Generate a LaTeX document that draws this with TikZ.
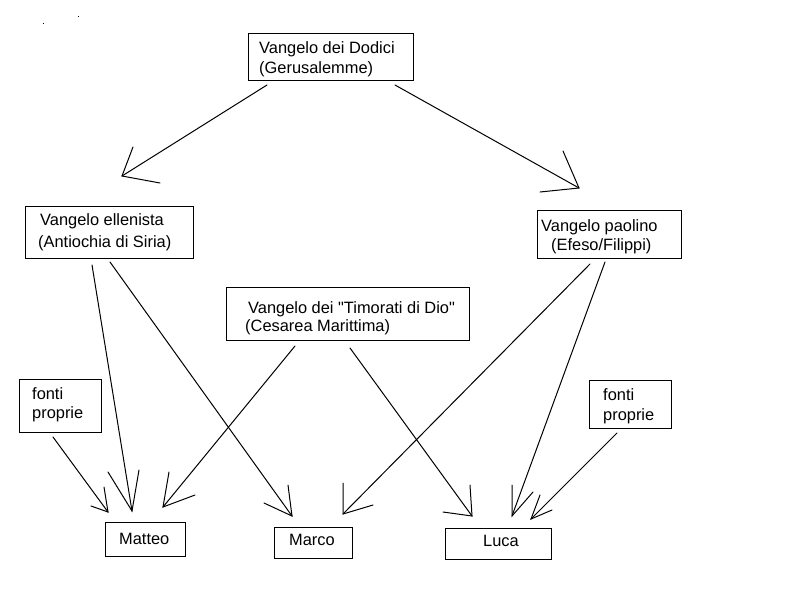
\documentclass[tikz,border=0pt]{standalone}
\usepackage{fontspec}
\setmainfont{Liberation Sans}[Ligatures=TeXOff]
\begin{document}
\begin{tikzpicture}[x=1pt,y=-1pt,
  box/.style={draw=black, line width=1pt, inner sep=0pt, anchor=north west},
  txt/.style={anchor=base west, inner sep=0pt, font=\fontsize{16.4}{20}\selectfont},
  conn/.style={draw=black, line width=1pt, line cap=round, line join=miter}]
\useasboundingbox[fill=white] (0,0) rectangle (800,600);

% stray dots
\fill (42.5,22.5) rectangle ++(1.2,1.2);
\fill (77.5,15.5) rectangle ++(1.2,1.2);

% boxes
\node[box, minimum width=165pt, minimum height=47pt] (dodici) at (248,33) {};
\node[box, minimum width=168pt, minimum height=52pt] (ellen) at (25,206) {};
\node[box, minimum width=144pt, minimum height=48pt] (paolo) at (537,210) {};
\node[box, minimum width=243pt, minimum height=53pt] (timor) at (226,287) {};
\node[box, minimum width=82pt, minimum height=53pt] (fontiL) at (19,379) {};
\node[box, minimum width=82pt, minimum height=48pt] (fontiR) at (589,380) {};
\node[box, minimum width=80pt, minimum height=34pt] (matteo) at (105,522) {};
\node[box, minimum width=78pt, minimum height=31pt] (marco) at (274,527) {};
\node[box, minimum width=106pt, minimum height=31pt] (luca) at (445,528) {};

% texts
\node[txt] (dodici1) at (259,53) {Vangelo dei Dodici};
\node[txt] (dodici2) at (259,73) {(Gerusalemme)};
\node[txt] (ellen1) at (40,225) {Vangelo ellenista};
\node[txt] (ellen2) at (38,247) {(Antiochia di Siria)};
\node[txt] (paolo1) at (541,231) {Vangelo paolino};
\node[txt] (paolo2) at (551,250) {(Efeso/Filippi)};
\node[txt] (timor1) at (248,313) {Vangelo dei "Timorati di Dio"};
\node[txt] (timor2) at (245,331) {(Cesarea Marittima)};
\node[txt] (fontiL1) at (32,399) {fonti};
\node[txt] (fontiL2) at (32,418) {proprie};
\node[txt] (fontiR1) at (603,400) {fonti};
\node[txt] (fontiR2) at (603,420) {proprie};
\node[txt] (matteo1) at (119,544) {Matteo};
\node[txt] (marco1) at (289,545) {Marco};
\node[txt] (luca1) at (483,546) {Luca};

% connector end points
\coordinate (s1) at (267,85);  \coordinate (t1) at (122,176);
\coordinate (s2) at (395,85);  \coordinate (t2) at (579,188);
\coordinate (s3) at (92,265);  \coordinate (t3) at (132,511);
\coordinate (s4) at (110,262); \coordinate (t4) at (292,516);
\coordinate (s5) at (295,346); \coordinate (t5) at (163,507);
\coordinate (s6) at (350,348); \coordinate (t6) at (472,516);
\coordinate (s7) at (590,264); \coordinate (t7) at (343,514);
\coordinate (s8) at (605,262); \coordinate (t8) at (512,516);
\coordinate (s9) at (617,433); \coordinate (t9) at (531,519);
\coordinate (s10) at (53,437); \coordinate (t10) at (108,512);

% shafts
\draw[conn] (s1) -- (t1);
\draw[conn] (s2) -- (t2);
\draw[conn] (s3) -- (t3);
\draw[conn] (s4) -- (t4);
\draw[conn] (s5) -- (t5);
\draw[conn] (s6) -- (t6);
\draw[conn] (s7) -- (t7);
\draw[conn] (s8) -- (t8);
\draw[conn] (s9) -- (t9);
\draw[conn] (s10) -- (t10);

% open hand-drawn heads
\draw[conn] (133,147) -- (t1) -- (160,183);
\draw[conn] (563,151) -- (t2) -- (540,192);
\draw[conn] (108,472) -- (t3) -- (139,470);
\draw[conn] (288,485) -- (t4) -- (264,503);
\draw[conn] (169,472) -- (t5) -- (195,495);
\draw[conn] (470,485) -- (t6) -- (443,512);
\draw[conn] (343,483) -- (t7) -- (373,505);
\draw[conn] (512,485) -- (t8) -- (533,492);
\draw[conn] (540,495) -- (t9) -- (552,510);
\draw[conn] (104,487) -- (t10) -- (91,506);
\end{tikzpicture}
\end{document}
